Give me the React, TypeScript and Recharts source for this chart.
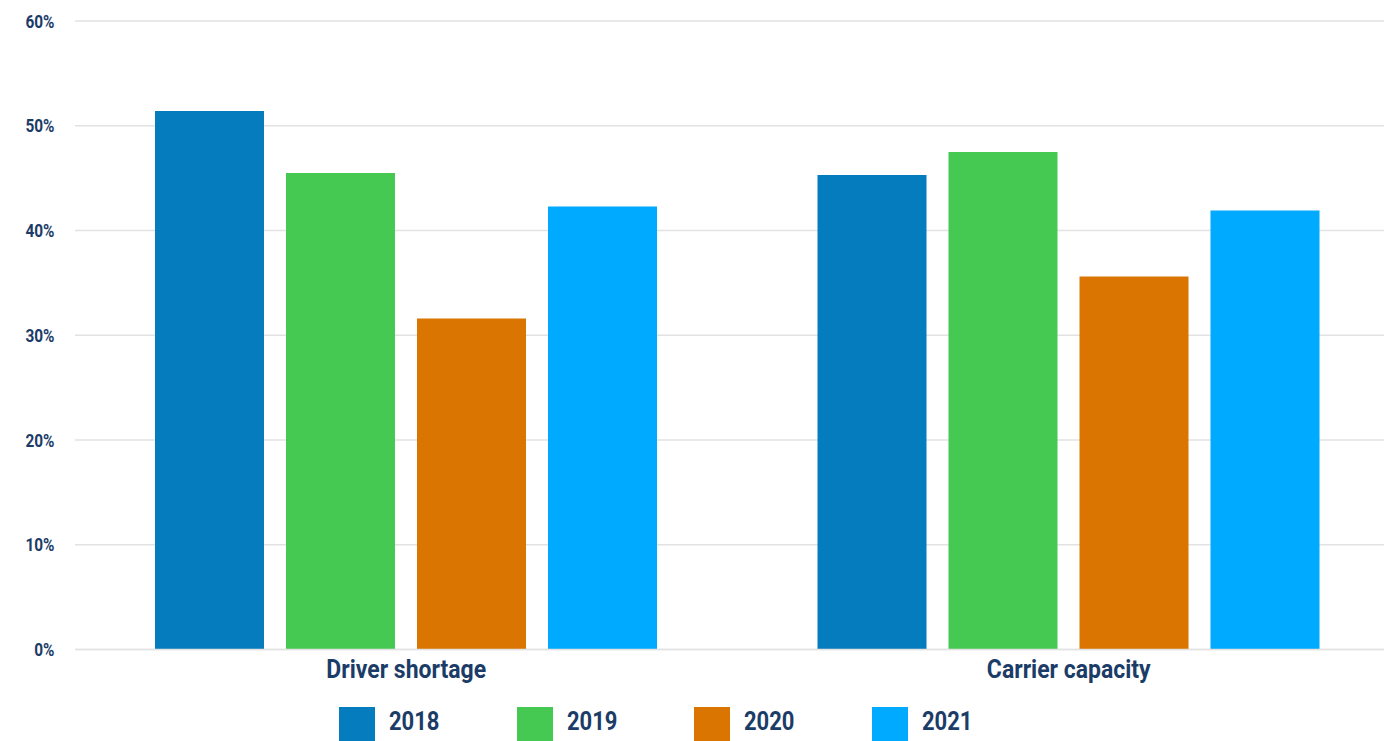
import React from "react";
import { BarChart, Bar, XAxis, YAxis, CartesianGrid, Legend } from "recharts";

const categories = ["Driver shortage", "Carrier capacity"];
const years = ["2018", "2019", "2020", "2021"];
const values2018 = [51.4, 45.3];
const values2019 = [45.5, 47.5];
const values2020 = [31.6, 35.6];
const values2021 = [42.3, 41.9];
const yTicks = [0, 10, 20, 30, 40, 50, 60];

const colors = ["#047cbd", "#46c952", "#d97500", "#00aaff"];
const TEXT = "#1c3c68";
const FONT = "Roboto, 'Liberation Sans', sans-serif";

const seriesValues = [values2018, values2019, values2020, values2021];
const data = categories.map((c, i) => {
  const row: Record<string, any> = { name: c };
  years.forEach((y, k) => {
    row[y] = seriesValues[k][i];
  });
  return row;
});

const YTick = (props: any) => {
  const { x, y, payload } = props;
  return (
    <g transform={`translate(${x - 12.5},${y + 6.5}) scale(0.88,1)`}>
      <text
        x={0}
        y={0}
        textAnchor="end"
        fill={TEXT}
        fontFamily={FONT}
        fontWeight={700}
        fontSize={17.5}
      >
        {`${payload.value}%`}
      </text>
    </g>
  );
};

const XTick = (props: any) => {
  const { x, y, payload } = props;
  return (
    <g transform={`translate(${x},${y + 20.8}) scale(0.92,1)`}>
      <text
        x={0}
        y={0}
        textAnchor="middle"
        fill={TEXT}
        fontFamily={FONT}
        fontWeight={700}
        fontSize={25}
      >
        {payload.value}
      </text>
    </g>
  );
};

const LegendContent = () => (
  <div
    style={{
      height: 46,
      position: "relative",
      display: "flex",
      paddingLeft: 339,
      boxSizing: "border-box",
    }}
  >
    {years.map((y, i) => (
      <div
        key={y}
        style={{
          width: 177.7,
          display: "flex",
          alignItems: "flex-start",
          paddingTop: 12,
          boxSizing: "border-box",
        }}
      >
        <div style={{ width: 36, height: 36, background: colors[i], flex: "none" }} />
        <div
          style={{
            marginLeft: 14,
            marginTop: -3,
            fontFamily: FONT,
            fontWeight: 700,
            fontSize: 25,
            color: TEXT,
            transform: "scaleX(0.88)",
            transformOrigin: "left center",
            lineHeight: "36px",
          }}
        >
          {y}
        </div>
      </div>
    ))}
  </div>
);

export default function App() {
  return (
    <div
      style={{
        marginLeft: -8,
        marginTop: -8,
        width: 1392,
        height: 741,
        overflow: "hidden",
        background: "#fff",
      }}
    >
      <BarChart
        width={1410}
        height={741}
        data={data}
        margin={{ top: 21, right: 10, left: 0, bottom: 0 }}
        barSize={109}
        barGap={22}
      >
        <CartesianGrid vertical={false} stroke="#e2e2e2" strokeWidth={1.5} />
        <XAxis
          dataKey="name"
          height={45.5}
          axisLine={{ stroke: "#e2e2e2", strokeWidth: 1.5 }}
          tickLine={false}
          tick={<XTick />}
          interval={0}
        />
        <YAxis
          width={75}
          domain={[0, 60]}
          ticks={yTicks}
          axisLine={false}
          tickLine={false}
          tick={<YTick />}
          interval={0}
        />
        <Legend verticalAlign="bottom" content={<LegendContent />} />
        {years.map((y, i) => (
          <Bar key={y} dataKey={y} fill={colors[i]} isAnimationActive={false} />
        ))}
      </BarChart>
    </div>
  );
}
